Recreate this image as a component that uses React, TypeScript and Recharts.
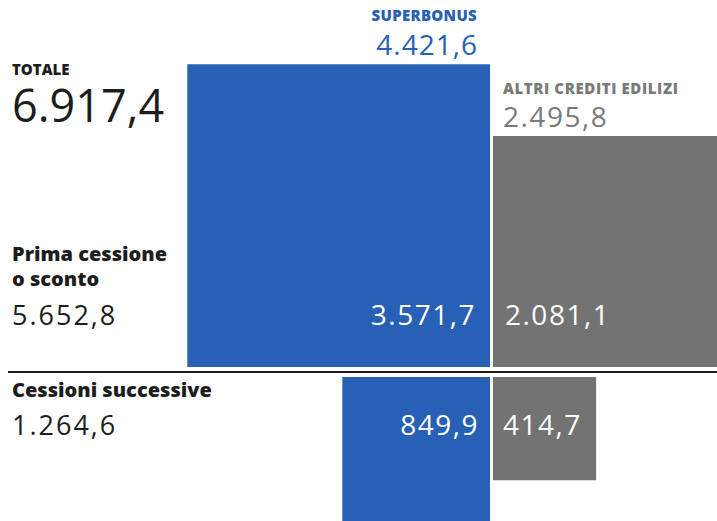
import { ComposedChart, XAxis, YAxis, ReferenceArea, ReferenceLine } from 'recharts';

const rows = ['Prima cessione o sconto', 'Cessioni successive'];
const superbonus = [3571.7, 849.9];
const altriCrediti = [2081.1, 414.7];

const W = 717;
const H = 521;
const K = 5.065; // px per sqrt-unit
const DIV_X = 491.5;
const BASE_Y = 372;
const GAP_X = 1.5 / K;
const GAP_Y = 5 / K;

const BLUE = '#2760b4';
const GRAY = '#727372';
const INK = '#1d1d1d';

const xDomain = [-DIV_X / K, (W - DIV_X) / K];
const yDomain = [-(H - BASE_Y) / K, BASE_Y / K];

const sum = (a: number[]) => a.reduce((s, v) => s + v, 0);

function fmt(v: number) {
  const [int, dec] = (Math.round(v * 10) / 10).toFixed(1).split('.');
  return int.replace(/\B(?=(\d{3})+(?!\d))/g, '.') + ',' + dec;
}

const num = { fontFamily: 'Open Sans', fontWeight: 400 } as const;
const bold = { fontFamily: 'Open Sans', fontWeight: 800 } as const;

export default function App() {
  const squares = rows.flatMap((_, i) => {
    const top = i === 0;
    const sb = Math.sqrt(superbonus[i]);
    const ac = Math.sqrt(altriCrediti[i]);
    const y1 = top ? GAP_Y : -GAP_Y;
    return [
      { key: `sb-${i}`, x1: -GAP_X - sb, x2: -GAP_X, y1, y2: top ? y1 + sb : y1 - sb, fill: BLUE },
      { key: `ac-${i}`, x1: GAP_X, x2: GAP_X + ac, y1, y2: top ? y1 + ac : y1 - ac, fill: GRAY },
    ];
  });

  const rowTotals = rows.map((_, i) => superbonus[i] + altriCrediti[i]);

  return (
    <div style={{ position: 'absolute', left: 0, top: 0, width: W, height: H, background: '#fff' }}>
      <ComposedChart width={W} height={H} data={[{ x: 0, y: 0 }]} margin={{ top: 0, right: 0, bottom: 0, left: 0 }}>
        <XAxis type="number" dataKey="x" domain={xDomain} hide allowDataOverflow />
        <YAxis type="number" dataKey="y" domain={yDomain} hide allowDataOverflow />
        {squares.map((s) => (
          <ReferenceArea
            key={s.key}
            x1={s.x1}
            x2={s.x2}
            y1={s.y1}
            y2={s.y2}
            fill={s.fill}
            fillOpacity={1}
            stroke="none"
            ifOverflow="hidden"
          />
        ))}
        <ReferenceLine
          segment={[{ x: (8 - DIV_X) / K, y: 0 }, { x: xDomain[1], y: 0 }]}
          stroke={INK}
          strokeWidth={2}
        />
      </ComposedChart>
      <svg width={W} height={H} style={{ position: 'absolute', left: 0, top: 0, pointerEvents: 'none' }}>
        <text x={12} y={75} fontSize={15} fill={INK} style={bold}>TOTALE</text>
        <text x={12} y={122} fontSize={45} fill={INK} style={num}>{fmt(sum(rowTotals))}</text>

        <text x={477} y={21} fontSize={15} fill={BLUE} textAnchor="end" letterSpacing={0.3} style={bold}>SUPERBONUS</text>
        <text x={478} y={55} fontSize={28} fill={BLUE} textAnchor="end" letterSpacing={1} style={num}>{fmt(sum(superbonus))}</text>

        <text x={503} y={94} fontSize={15} fill="#7a7a7a" letterSpacing={0.6} style={bold}>ALTRI CREDITI EDILIZI</text>
        <text x={503} y={127} fontSize={28} fill="#7a7a7a" letterSpacing={1.5} style={num}>{fmt(sum(altriCrediti))}</text>

        <text x={12} y={261} fontSize={20} fill={INK} style={bold}>Prima cessione</text>
        <text x={12} y={286} fontSize={20} fill={INK} style={bold}>o sconto</text>
        <text x={12} y={325} fontSize={27} fill={INK} letterSpacing={2} style={num}>{fmt(rowTotals[0])}</text>

        <text x={12} y={397} fontSize={20} fill={INK} style={bold}>{rows[1]}</text>
        <text x={12} y={435} fontSize={27} fill={INK} letterSpacing={2} style={num}>{fmt(rowTotals[1])}</text>

        <text x={476} y={325} fontSize={28} fill="#fff" textAnchor="end" letterSpacing={1.5} style={num}>{fmt(superbonus[0])}</text>
        <text x={505} y={325} fontSize={28} fill="#fff" letterSpacing={1.5} style={num}>{fmt(altriCrediti[0])}</text>
        <text x={479} y={435} fontSize={28} fill="#fff" textAnchor="end" letterSpacing={1.5} style={num}>{fmt(superbonus[1])}</text>
        <text x={503} y={435} fontSize={28} fill="#fff" letterSpacing={1.5} style={num}>{fmt(altriCrediti[1])}</text>
      </svg>
    </div>
  );
}
